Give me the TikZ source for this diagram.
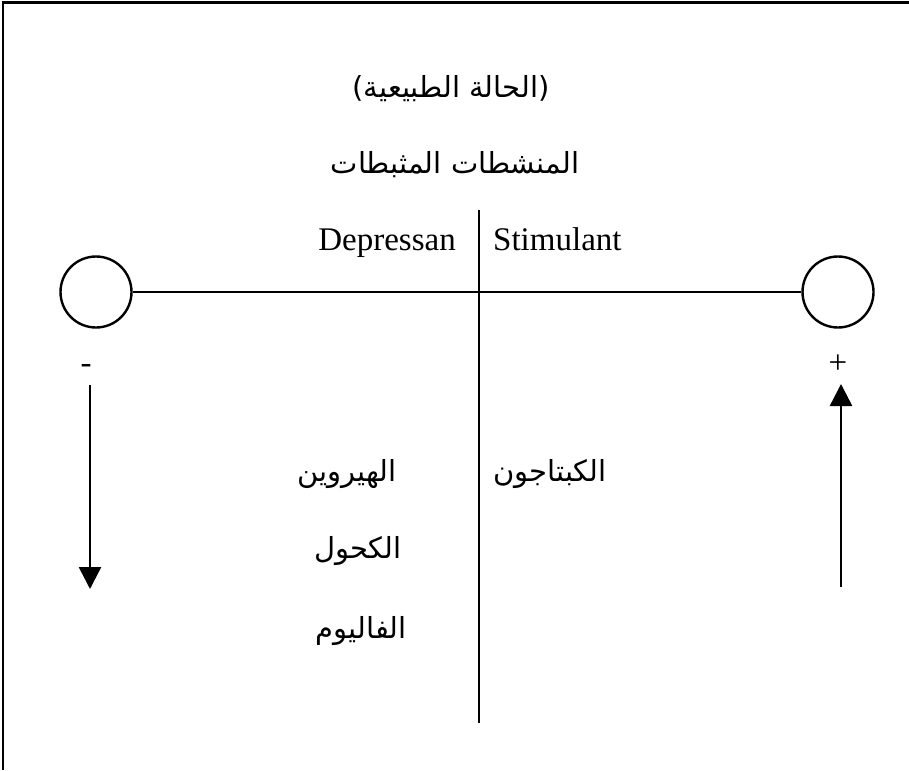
\documentclass[tikz,border=0pt]{standalone}
\usepackage{fontspec}
\setmainfont{Liberation Serif}
\newfontfamily\arabicfont[Script=Arabic]{DejaVu Sans}
\TeXXeTstate=1
\usetikzlibrary{arrows.meta}
\begin{document}
\begin{tikzpicture}[x=1pt,y=-1pt,
  line/.style={line width=2.5pt},
  pole/.style={circle,draw,line width=2.4pt,minimum size=71pt,inner sep=0pt},
  lat/.style={font=\fontsize{33}{40}\selectfont,inner sep=0pt},
  ar/.style={font=\arabicfont\fontsize{29}{35}\selectfont,inner sep=0pt},
  flow/.style={line width=2.5pt,-{Triangle[length=22pt,width=22pt]}}]
  \useasboundingbox (0,0) rectangle (909,770);
  % frame: top and left edges
  \coordinate (ftl) at (3,2.5);
  \coordinate (ftr) at (909,2.5);
  \coordinate (fbl) at (3,770);
  \draw[line width=2.5pt] (fbl) -- (ftl) -- (ftr);

  % headings
  \node[ar,anchor=base] (state) at (451,98) {\beginR(الحالة الطبيعية)\endR};
  \node[ar,anchor=base] (kinds) at (455,173) {\beginR المنشطات المثبطات\endR};

  % axis
  \node[pole] (neg) at (96,292) {};
  \node[pole] (pos) at (838,292) {};
  \draw[line] (neg.east) -- (pos.west);
  \coordinate (vtop) at (479,210);
  \coordinate (vbot) at (479,723);
  \draw[line] (vtop) -- (vbot);

  \node[lat,anchor=base east] (dep) at (456,250) {Depressan};
  \node[lat,anchor=base west] (sti) at (493,250) {Stimulant};

  \node[lat,anchor=base] (minus) at (86,373) {-};
  \node[lat,anchor=base] (plus) at (838,373) {+};

  % direction arrows
  \coordinate (a1) at (90,385);
  \coordinate (a2) at (90,589);
  \draw[flow] (a1) -- (a2);
  \coordinate (b1) at (841,587);
  \coordinate (b2) at (841,384);
  \draw[flow] (b1) -- (b2);

  % examples
  \node[ar,anchor=base east] (heroin) at (397,481) {\beginR الهيروين\endR};
  \node[ar,anchor=base east] (alcohol) at (402,558) {\beginR الكحول\endR};
  \node[ar,anchor=base east] (valium) at (407,638) {\beginR الفاليوم\endR};
  \node[ar,anchor=base west] (captagon) at (493,481) {\beginR الكبتاجون\endR};
\end{tikzpicture}
\end{document}
